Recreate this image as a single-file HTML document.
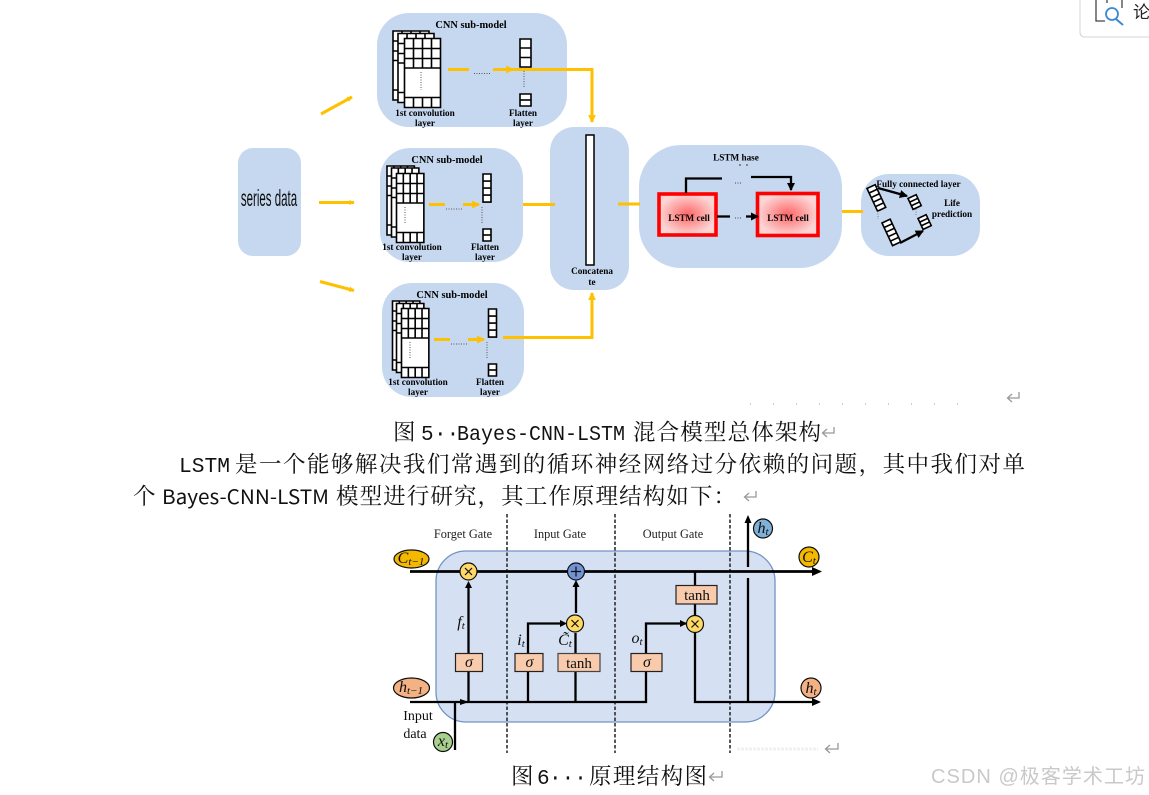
<!DOCTYPE html>
<html><head><meta charset="utf-8"><style>
html,body{margin:0;padding:0;background:#fff;width:1149px;height:795px;overflow:hidden}
svg{display:block}
.b{font-family:"Liberation Serif",serif;font-weight:bold;font-size:9.2px;fill:#000;text-anchor:middle}
.h{font-family:"Liberation Serif",serif;font-weight:bold;font-size:10.4px;fill:#000;text-anchor:middle}
.s{fill:#fff;stroke:#000;stroke-width:1.6;vector-effect:non-scaling-stroke}
.n{fill:none;stroke:#000;stroke-width:1.6;vector-effect:non-scaling-stroke}
.y{stroke:#ffc000;stroke-width:3;fill:none}
.k{stroke:#000;stroke-width:2.300;fill:none}
.g{font-family:"Liberation Serif",serif;font-size:12.3px;fill:#222;text-anchor:middle}
.m{font-family:"Liberation Serif",serif;font-style:italic;font-size:16px;fill:#111;text-anchor:middle}
.t{font-family:"Liberation Serif","Noto Serif CJK SC",serif;font-size:22.5px;fill:#111}
.l{font-family:"Liberation Mono",monospace;font-size:21px;fill:#111}
.ret{stroke:#999;stroke-width:1.3;fill:none}
</style></head><body>
<svg width="1149" height="795" viewBox="0 0 1149 795" xmlns="http://www.w3.org/2000/svg">
<defs>
<g id="sheet">
<rect class="s" x="0" y="0" width="36" height="69"/>
<path class="n" d="M0 10H36M0 20H36M0 29.500H36M0 59H36M9 0V29.500M18 0V29.500M27 0V29.500M9 59V69M18 59V69M27 59V69"/>
</g>
<g id="fl"><rect class="s" x="0" y="0" width="8" height="26"/><path class="n" d="M0 6.500H8M0 13H8M0 19.500H8"/></g>
<g id="fs"><rect class="s" x="0" y="0" width="9" height="12"/><path class="n" d="M0 4H9M0 8H9"/></g>
<g id="fb"><rect class="s" x="0" y="0" width="9" height="25"/><path class="n" d="M0 5H9M0 10H9M0 15H9M0 20H9"/></g>
<radialGradient id="rg"><stop offset="0" stop-color="#f66"/><stop offset="1" stop-color="#fcd4d4"/></radialGradient>
<filter id="bl" x="-5%" y="-5%" width="110%" height="110%"><feGaussianBlur stdDeviation="0.35"/></filter>
<marker id="ay" viewBox="0 0 8 8" refX="7" refY="4" markerWidth="2.600" markerHeight="2.600" orient="auto"><path d="M0 0L8 4L0 8z" fill="#ffc000"/></marker>
<marker id="as" viewBox="0 0 8 8" refX="7" refY="4" markerWidth="1.800" markerHeight="1.800" orient="auto"><path d="M0 0L8 4L0 8z" fill="#ffc000"/></marker>
<marker id="ak" viewBox="0 0 8 8" refX="7" refY="4" markerWidth="3.600" markerHeight="3.600" orient="auto"><path d="M0 0L8 4L0 8z" fill="#000"/></marker>
</defs>

<!-- corner card -->
<path d="M1080 0V32Q1080 37 1085 37H1149" fill="#fff" stroke="#d4d4d4" stroke-width="1"/>
<path d="M1096 0V21H1105M1122 0V8M1107 0V3" fill="none" stroke="#444" stroke-width="1.300"/>
<circle cx="1112" cy="14" r="6" fill="none" stroke="#3b8ad0" stroke-width="1.800"/>
<path d="M1116 19L1123 25" stroke="#3b8ad0" stroke-width="2"/>
<text x="1133" y="18" font-family="'Noto Sans CJK SC',sans-serif" font-size="17" fill="#222">论</text>

<!-- upper diagram -->
<g filter="url(#bl)">
<rect x="238" y="148" width="63" height="108" rx="15" fill="#c6d8f0"/>
<rect x="377" y="13" width="190" height="114" rx="32" fill="#c6d8f0"/>
<rect x="380" y="148" width="143" height="114" rx="30" fill="#c6d8f0"/>
<rect x="382" y="283" width="142" height="114" rx="30" fill="#c6d8f0"/>
<rect x="550" y="127" width="79" height="163" rx="24" fill="#c6d8f0"/>
<rect x="639" y="145" width="203" height="123" rx="42" fill="#c6d8f0"/>
<rect x="861" y="174" width="119" height="82" rx="28" fill="#c6d8f0"/>

<text transform="translate(269,206) scale(0.5,1)" text-anchor="middle" font-family="'Liberation Sans',sans-serif" font-size="23" fill="#111">series data</text>

<!-- box1 -->
<text class="h" x="471" y="28">CNN sub-model</text>
<use href="#sheet" transform="translate(393,31)"/>
<use href="#sheet" transform="translate(398,33.500)"/>
<use href="#sheet" transform="translate(404.500,38.500)"/>
<path d="M421 72V90" stroke="#555" stroke-dasharray="1 1.500"/>
<rect class="s" x="520" y="39" width="11" height="28"/><path class="n" d="M520 48H531M520 57.500H531"/>
<rect class="s" x="520" y="94" width="11" height="12"/><path class="n" d="M520 100H531"/>
<path d="M524 71V88" stroke="#555" stroke-dasharray="1 1.500"/>
<path d="M474 73.500H490" stroke="#555" stroke-dasharray="1 1.500"/>
<text class="b" x="425" y="116">1st convolution</text><text class="b" x="425" y="126">layer</text>
<text class="b" x="523" y="116">Flatten</text><text class="b" x="523" y="126">layer</text>
<path class="y" d="M448 69.500H469"/>
<path class="y" d="M493 69.500H592V122" marker-end="url(#ay)"/>
<path class="y" d="M505 69.500H513" marker-end="url(#ay)"/>

<!-- box2 -->
<text class="h" x="447" y="163">CNN sub-model</text>
<use href="#sheet" transform="translate(387,166) scale(0.760,1)"/>
<use href="#sheet" transform="translate(391.500,168) scale(0.760,1)"/>
<use href="#sheet" transform="translate(396.500,173.500) scale(0.760,1)"/>
<path d="M405 207V224" stroke="#555" stroke-dasharray="1 1.500"/>
<use href="#fl" transform="translate(483,174) scale(1,1.080)"/>
<rect class="s" x="483" y="229" width="8" height="12"/><path class="n" d="M483 235H491"/>
<path d="M482 207V224" stroke="#555" stroke-dasharray="1 1.500"/>
<path d="M446 209H463" stroke="#555" stroke-dasharray="1 1.500"/>
<text class="b" x="412" y="250">1st convolution</text><text class="b" x="412" y="260">layer</text>
<text class="b" x="485" y="250">Flatten</text><text class="b" x="485" y="260">layer</text>
<path class="y" d="M429 204.500H445"/><path class="y" d="M463 204.500H479" marker-end="url(#ay)"/>

<!-- box3 -->
<text class="h" x="452" y="298">CNN sub-model</text>
<use href="#sheet" transform="translate(392.500,301) scale(0.760,1)"/>
<use href="#sheet" transform="translate(396.500,303.500) scale(0.760,1)"/>
<use href="#sheet" transform="translate(401.500,308.500) scale(0.760,1)"/>
<path d="M410 342V358" stroke="#555" stroke-dasharray="1 1.500"/>
<use href="#fl" transform="translate(488.500,309) scale(1,1.080)"/>
<rect class="s" x="488.500" y="364" width="8" height="12"/><path class="n" d="M488.500 370H496.500"/>
<path d="M487 342V358" stroke="#555" stroke-dasharray="1 1.500"/>
<path d="M451 344H468" stroke="#555" stroke-dasharray="1 1.500"/>
<text class="b" x="418" y="385">1st convolution</text><text class="b" x="418" y="395">layer</text>
<text class="b" x="490" y="385">Flatten</text><text class="b" x="490" y="395">layer</text>
<path class="y" d="M434 339.500H450"/><path class="y" d="M468 339.500H484" marker-end="url(#ay)"/>
<path class="y" d="M503 337.500H592V293" marker-end="url(#ay)"/>

<!-- series arrows -->
<path class="y" d="M321 114L352 97" marker-end="url(#as)"/>
<path class="y" d="M319 202.500H354" marker-end="url(#as)"/>
<path class="y" d="M320 281.500L354 290.500" marker-end="url(#as)"/>
<path class="y" d="M523 204.500H555"/>
<path class="y" d="M618 204H640"/>
<path class="y" d="M842 211.500H863"/>

<!-- concat -->
<rect x="586" y="135" width="8" height="130" fill="#fff" stroke="#000" stroke-width="1.500"/>
<text class="b" x="592" y="274">Concatena</text><text class="b" x="592" y="285">te</text>

<!-- LSTM -->
<text class="b" x="736" y="160.500">LSTM hase</text>
<path d="M739 165H741M746 165H748" stroke="#333"/>
<rect x="659" y="194" width="57" height="41" fill="url(#rg)" stroke="#f00" stroke-width="3.600"/>
<rect x="757.500" y="193.500" width="60.500" height="42" fill="url(#rg)" stroke="#f00" stroke-width="3.600"/>
<text class="b" x="689" y="221">LSTM cell</text>
<text class="b" x="788" y="221">LSTM cell</text>
<path class="k" d="M686 193V178.500H722"/>
<path class="k" d="M751 177H791V190" marker-end="url(#ak)"/>
<path class="k" d="M717 216.500H730"/>
<path class="k" d="M746 216.500H758" marker-end="url(#ak)"/>
<path d="M735 183H741M735 218H741" stroke="#444" stroke-dasharray="1 1.500"/>

<!-- FC -->
<text class="b" x="918.500" y="187">Fully connected layer</text>
<text class="b" x="952" y="206">Life</text><text class="b" x="952" y="217">prediction</text>
<use href="#fb" transform="translate(867,188.500) rotate(-25)"/>
<use href="#fs" transform="translate(908,198.500) rotate(-25)"/>
<use href="#fb" transform="translate(882,223) rotate(-25)"/>
<use href="#fs" transform="translate(918,218.500) rotate(-25)"/>
<path class="k" d="M878 188L907 196" marker-end="url(#ak)"/>
<path class="k" d="M900 243L923 231" marker-end="url(#ak)"/>
<path d="M878 211V219M916 209V216" stroke="#777" stroke-dasharray="1 1.500"/>
<path d="M750 404H970" stroke="#999" stroke-width="1" stroke-dasharray="1 22"/>
</g>

<path class="ret" d="M1019 392V398H1008M1012 394L1007.500 398L1012 402"/>

<!-- Text -->
<text class="t" x="393" y="440">图</text>
<text class="l" x="421" y="440">5</text>
<text class="l" x="434" y="440" font-size="12" fill="#666">··</text>
<text class="l" x="457" y="440" textLength="168" lengthAdjust="spacingAndGlyphs">Bayes-CNN-LSTM</text>
<text class="t" x="633" y="440" textLength="188" lengthAdjust="spacing">混合模型总体架构</text>
<path class="ret" d="M834 427V433H823M827 429L822.500 433L827 437"/>

<text class="l" x="179" y="472" textLength="51" lengthAdjust="spacingAndGlyphs">LSTM</text>
<text class="t" x="235" y="472" textLength="790" lengthAdjust="spacing">是一个能够解决我们常遇到的循环神经网络过分依赖的问题，其中我们对单</text>
<text class="t" x="133" y="504">个</text>
<text x="162" y="504" font-family="'Noto Sans CJK SC','Liberation Sans',sans-serif" font-size="20" fill="#111" textLength="167" lengthAdjust="spacingAndGlyphs">Bayes-CNN-LSTM</text>
<text class="t" x="336" y="504" textLength="400" lengthAdjust="spacing">模型进行研究，其工作原理结构如下：</text>
<path class="ret" d="M756 491V497H745M749 493L744.500 497L749 501"/>

<text class="t" x="511" y="784">图</text>
<text class="l" x="537" y="784">6</text>
<text class="l" x="549" y="784" font-size="12" fill="#666">···</text>
<text class="t" x="589" y="784" textLength="118" lengthAdjust="spacing">原理结构图</text>
<path class="ret" d="M722 771V777H710M714 773L709.500 777L714 781"/>
<text x="931" y="783" font-family="'Liberation Sans','Noto Sans CJK SC',sans-serif" font-size="20" fill="#c9c9c9" textLength="214" lengthAdjust="spacing">CSDN @极客学术工坊</text>

<!-- LSTM structure diagram -->
<g filter="url(#bl)">
<rect x="436" y="551" width="339" height="171" rx="30" fill="#d6e0f3" stroke="#7094c4" stroke-width="1.300"/>
<g stroke="#222" stroke-width="1.500" stroke-dasharray="3.500 2" fill="none">
<path d="M507 514V753M615 514V753M730 514V753"/>
</g>
<text class="g" x="463" y="538">Forget Gate</text>
<text class="g" x="560" y="538">Input Gate</text>
<text class="g" x="673" y="538">Output Gate</text>

<path d="M410 571.500H816" stroke="#000" stroke-width="2.800"/>
<path d="M812 567L822 571.500L812 576z" fill="#000"/>
<path class="k" d="M410 702H646V623.500H686"/>
<path class="k" d="M695 633V702H816"/>
<path d="M812 698L821 702L812 706z" fill="#000"/>
<path d="M680 620L687 623.500L680 627z" fill="#000"/>
<path d="M460 699L469 702L460 705z" fill="#000"/>
<path class="k" d="M455 702V750"/>
<path class="k" d="M468.500 702V588"/><path d="M465 588L468.500 581L472 588z" fill="#000"/>
<path class="k" d="M528 702V623.500H562"/><path d="M560 620L567 623.500L560 627z" fill="#000"/>
<path class="k" d="M575.500 702V633"/>
<path class="k" d="M576 613V587"/><path d="M572.500 587L576 580L579.500 587z" fill="#000"/>
<path class="k" d="M695 571V615"/>
<path class="k" d="M748 702V578"/>
<path class="k" d="M748 567V522"/><path d="M744.500 523L748 515L751.500 523z" fill="#000"/>

<rect x="455.500" y="653.500" width="27" height="18" fill="#f8cbad" stroke="#222" stroke-width="1.200"/>
<rect x="515" y="653.500" width="28" height="18" fill="#f8cbad" stroke="#222" stroke-width="1.200"/>
<rect x="558" y="653.500" width="42" height="18" fill="#f8cbad" stroke="#444" stroke-width="1.200"/>
<rect x="631" y="653.500" width="31" height="18" fill="#f8cbad" stroke="#222" stroke-width="1.200"/>
<rect x="676" y="585.500" width="41" height="18.500" fill="#f8cbad" stroke="#222" stroke-width="1.200"/>
<text class="m" x="469" y="667">σ</text>
<text class="m" x="529.500" y="667">σ</text>
<text class="m" x="647" y="667">σ</text>
<text x="579" y="668" font-family="'Liberation Serif',serif" font-size="15" fill="#111" text-anchor="middle">tanh</text>
<text x="697" y="600" font-family="'Liberation Serif',serif" font-size="15" fill="#111" text-anchor="middle">tanh</text>

<g stroke="#111" stroke-width="1.200">
<circle cx="468.500" cy="571.500" r="8.500" fill="#ffd966"/>
<circle cx="576" cy="571.500" r="8.500" fill="#7293d3"/>
<circle cx="575" cy="623.500" r="8.500" fill="#ffd966"/>
<circle cx="695" cy="624" r="8.500" fill="#ffd966"/>
<path d="M465 568L472 575M472 568L465 575M571.500 620L578.500 627M578.500 620L571.500 627M691.500 620.500L698.500 627.500M698.500 620.500L691.500 627.500M571 571.500H581M576 566.500V576.500" fill="none"/>
<ellipse cx="411.500" cy="559" rx="17.500" ry="9" fill="#f5b800"/>
<ellipse cx="411.500" cy="688" rx="18" ry="10" fill="#f4b183"/>
<circle cx="443" cy="742" r="9.500" fill="#a9d18e"/>
<circle cx="763" cy="528.500" r="9.500" fill="#7fb0d8"/>
<circle cx="809" cy="557" r="10" fill="#f5b800"/>
<circle cx="811" cy="688" r="10" fill="#f4b183"/>
</g>
<text class="m" x="411" y="563" font-size="15">C<tspan font-size="11" dy="2">t−1</tspan></text>
<text class="m" x="411" y="692">h<tspan font-size="11" dy="2">t−1</tspan></text>
<text class="m" x="443" y="746">x<tspan font-size="11" dy="2">t</tspan></text>
<text class="m" x="763" y="533">h<tspan font-size="11" dy="2">t</tspan></text>
<text class="m" x="809" y="562">C<tspan font-size="11" dy="2">t</tspan></text>
<text class="m" x="811" y="693">h<tspan font-size="11" dy="2">t</tspan></text>
<text class="m" x="461" y="627">f<tspan font-size="11" dy="2">t</tspan></text>
<text class="m" x="521" y="645">i<tspan font-size="11" dy="2">t</tspan></text>
<text class="m" x="565" y="645">C̃<tspan font-size="11" dy="2">t</tspan></text>
<text class="m" x="637" y="643">o<tspan font-size="11" dy="2">t</tspan></text>
<text x="418" y="720" font-family="'Liberation Serif',serif" font-size="14" fill="#111" text-anchor="middle">Input</text>
<text x="415" y="738" font-family="'Liberation Serif',serif" font-size="14" fill="#111" text-anchor="middle">data</text>
</g>
<path d="M737 749H818" stroke="#f0f0f0" stroke-width="3" stroke-dasharray="3 1"/>
<path class="ret" d="M838 743V749H826M830 745L825.500 749L830 753"/>
</svg>
</body></html>
